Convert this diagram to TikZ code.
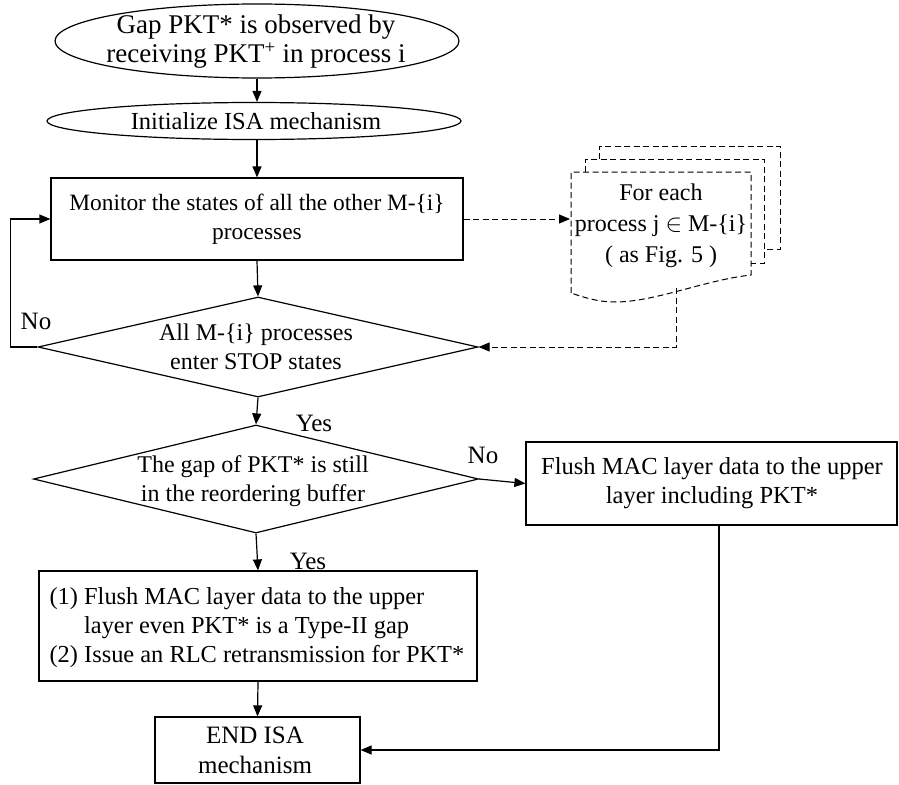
\documentclass[tikz,border=0pt]{standalone}
\usepackage{fontspec}
\setmainfont{Liberation Serif}
\usetikzlibrary{shapes.geometric,arrows.meta}

\begin{document}
\begin{tikzpicture}[x=1pt,y=-1pt,line width=1.2pt,
  txt/.style={font=\fontsize{24}{29}\selectfont,inner sep=0pt,align=center},
  oval/.style={draw,ellipse,inner sep=0pt},
  box/.style={draw,rectangle,inner sep=0pt},
  decision/.style={draw,diamond,inner sep=0pt},
  arr/.style={-{Triangle[length=11pt,width=9pt]}},
  darr/.style={arr,dash pattern=on 6pt off 3.5pt,line width=1pt},
  paper/.style={dash pattern=on 6pt off 3.5pt,line width=1pt}]
\useasboundingbox (0,0) rectangle (899,784);

% start / init ovals
\node[oval,minimum width=404pt,minimum height=74pt] (start) at (257,41) {};
\node[txt,font=\fontsize{27}{29}\selectfont] (starttxt) at (256,42) {Gap PKT* is observed by\\receiving PKT\textsuperscript{+} in process i};
\node[oval,minimum width=414pt,minimum height=37pt] (init) at (254,121) {};
\node[txt,font=\fontsize{24.5}{29}\selectfont] (inittxt) at (256,121) {Initialize ISA mechanism};

% monitoring box
\node[box,minimum width=412pt,minimum height=82pt] (monitor) at (257,219) {};
\node[txt,font=\fontsize{23.4}{29}\selectfont] (monitortxt) at (257,219) {Monitor the states of all the other M-\{i\}\\processes};

% decisions
\node[decision,minimum width=440pt,minimum height=100pt] (dia1) at (258,347) {};
\node[txt] (dia1txt) at (256,347) {All M-\{i\} processes\\enter STOP states};
\node[decision,minimum width=445pt,minimum height=108pt] (dia2) at (256,479) {};
\node[txt] (dia2txt) at (253,481) {The gap of PKT* is still\\in the reordering buffer};

% flush boxes
\node[box,minimum width=371pt,minimum height=83pt] (flushB) at (711.5,483.5) {};
\node[txt,font=\fontsize{24.5}{29}\selectfont] (flushBtxt) at (712,483.5) {Flush MAC layer data to the upper\\layer including PKT*};
\node[box,minimum width=438pt,minimum height=110pt] (flushA) at (258,626) {};
\node[txt,font=\fontsize{24.4}{29}\selectfont,anchor=west,align=left] (flushAtxt) at (49,628) {(1) Flush MAC layer data to the upper\\\phantom{(1) }layer even PKT* is a Type-II gap\\(2) Issue an RLC retransmission for PKT*};

% end box
\node[box,minimum width=205pt,minimum height=66pt] (endn) at (257.5,750) {};
\node[txt,font=\fontsize{25}{30}\selectfont] (endtxt) at (255,750) {END ISA\\mechanism};

% stacked per-process documents
\draw[paper] (599,159) -- (599,146) -- (780,146) -- (780,249) -- (764,249);
\draw[paper] (585,172) -- (585,159) -- (764,159) -- (764,263) -- (751,263);
\draw[paper] (571,293) -- (571,172) -- (751,172) -- (751,275)
  .. controls (705,280) and (655,302) .. (615,302)
  .. controls (597,302) and (583,297) .. (571,293);
\node[txt,font=\fontsize{24}{31}\selectfont] (doctxt) at (661,226) {For each\\process j $\in$ M-\{i\}\\( as Fig. 5 )};
\coordinate (docin) at (570,221);
\coordinate (docout) at (676,288);

% connectors
\draw[arr] (start.south) -- (start.south |- init.north);
\draw[arr] (init.south -| monitor.north) -- (monitor.north);
\draw[arr] (monitor.south) -- (dia1.north);
\draw[arr] (dia1.south) -- (dia2.north);
\draw[arr] (dia1.west) -- ++(-27,0) |- (monitor.west);
\draw[arr] (dia2.east) -- (flushB.west);
\draw[arr] (dia2.south) -- (flushA.north);
\draw[arr] (flushA.south) -- (endn.north);
\draw[arr] ([xshift=7.5pt]flushB.south) |- (endn.east);
\draw[darr] (monitor.east) -- (monitor.east -| docin);
\draw[darr] (docout) |- (dia1.east);

% branch labels
\node[txt,font=\fontsize{25}{29}\selectfont] (no1) at (36,321) {No};
\node[txt,font=\fontsize{25}{29}\selectfont] (yes1) at (314,423) {Yes};
\node[txt,font=\fontsize{25}{29}\selectfont] (no2) at (483,455) {No};
\node[txt,font=\fontsize{25}{29}\selectfont] (yes2) at (308,561) {Yes};
\end{tikzpicture}
\end{document}
